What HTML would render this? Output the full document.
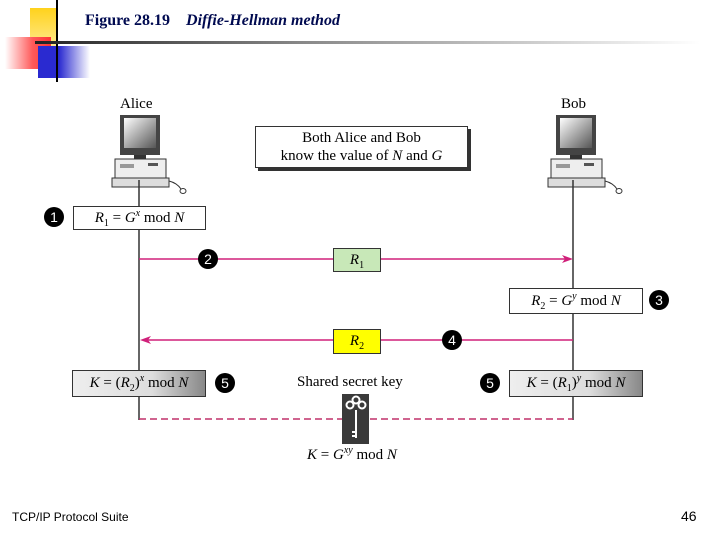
<!DOCTYPE html>
<html><head><style>
body{margin:0;width:720px;height:540px;background:#fff;position:relative;overflow:hidden;font-family:"Liberation Serif",serif}
.a{position:absolute}
.box{position:absolute;border:1px solid #333;background:#fff;font-size:15px;text-align:center;box-sizing:border-box;white-space:nowrap}
.c{position:absolute;width:20px;height:20px;border-radius:50%;background:#000;color:#fff;font-size:14px;text-align:center;line-height:20px;font-family:"Liberation Sans",sans-serif}
.g{background:linear-gradient(90deg,#eee,#ddd 60%,#888)}
i{font-style:italic}
sub,sup{font-size:10px;line-height:0}
</style></head><body>
<div class="a" style="left:30px;top:8px;width:28px;height:38px;background:linear-gradient(#ffd21c,#ffe98a)"></div>
<div class="a" style="left:5px;top:37px;width:46px;height:32px;background:linear-gradient(90deg,#fff,#ff5a5a 60%,#f33)"></div>
<div class="a" style="left:38px;top:46px;width:52px;height:32px;background:linear-gradient(90deg,#2a2ad0 40%,#fff)"></div>
<div class="a" style="left:56px;top:0;width:2px;height:82px;background:#000"></div>
<div class="a" style="left:35px;top:41px;width:665px;height:3px;background:linear-gradient(90deg,#222,#888 40%,#fff)"></div>
<div class="a" style="left:85px;top:12px;font-size:16px;color:#000a50"><b>Figure 28.19</b>&nbsp;&nbsp;&nbsp; <b><i>Diffie-Hellman method</i></b></div>

<svg class="a" style="left:0;top:0" width="720" height="540">
<defs>
<linearGradient id="scr" x1="0" x2="1" y1="0" y2="1"><stop offset="0" stop-color="#fff"/><stop offset="1" stop-color="#555"/></linearGradient>
<g id="pc">
<rect x="-20" y="0" width="40" height="40" fill="#444"/><rect x="-16" y="3" width="32" height="30" fill="url(#scr)"/>
<rect x="-6" y="40" width="12" height="4" fill="#333"/>
<rect x="-25" y="44" width="51" height="19" fill="#eee" stroke="#333"/>
<rect x="-20" y="49" width="14" height="4" fill="#999"/><rect x="8" y="48" width="10" height="3" fill="#555"/>
<rect x="-28" y="63" width="57" height="9" fill="#ddd" stroke="#333"/>
<path d="M29 66 q8 2 12 8" stroke="#333" fill="none"/><ellipse cx="43" cy="76" rx="3" ry="2.5" fill="#fff" stroke="#333"/>
</g>
</defs>
<use href="#pc" x="140" y="115"/>
<use href="#pc" x="576" y="115"/>
<line x1="139" y1="180" x2="139" y2="420" stroke="#333" stroke-width="1.5"/>
<line x1="573" y1="180" x2="573" y2="420" stroke="#333" stroke-width="1.5"/>
<line x1="139" y1="419" x2="573" y2="419" stroke="#c0306a" stroke-width="1.5" stroke-dasharray="7,4"/>
<line x1="139" y1="259" x2="568" y2="259" stroke="#d0207a" stroke-width="1.5"/>
<path d="M573 259 L562 255 L565 259 L562 263Z" fill="#d0207a"/>
<line x1="145" y1="340" x2="573" y2="340" stroke="#d0207a" stroke-width="1.5"/>
<path d="M140 340 L151 336 L148 340 L151 344Z" fill="#d0207a"/>
<rect x="342" y="394" width="27" height="50" fill="#3a3a3a"/>
<circle cx="350" cy="405" r="3.5" fill="none" stroke="#fff" stroke-width="2"/><circle cx="362" cy="405" r="3.5" fill="none" stroke="#fff" stroke-width="2"/><circle cx="356" cy="400" r="3.5" fill="none" stroke="#fff" stroke-width="2"/>
<line x1="356" y1="410" x2="356" y2="438" stroke="#fff" stroke-width="2"/><line x1="352" y1="432" x2="356" y2="432" stroke="#fff" stroke-width="2"/><line x1="352" y1="436" x2="356" y2="436" stroke="#fff" stroke-width="2"/>
</svg>

<div class="a" style="left:120px;top:96px;font-size:15px">Alice</div>
<div class="a" style="left:561px;top:96px;font-size:15px">Bob</div>
<div class="box" style="left:255px;top:126px;width:213px;height:42px;line-height:18px;padding-top:2px;box-shadow:3px 3px 0 #333">Both Alice and Bob<br>know the value of <i>N</i> and <i>G</i></div>
<div class="c" style="left:44px;top:207px">1</div>
<div class="box" style="left:73px;top:206px;width:133px;height:24px;line-height:22px"><i>R</i><sub>1</sub> = <i>G</i><sup><i>x</i></sup> mod <i>N</i></div>
<div class="c" style="left:198px;top:249px">2</div>
<div class="box" style="left:333px;top:248px;width:48px;height:24px;line-height:22px;background:#c8e8b8"><i>R</i><sub>1</sub></div>
<div class="box" style="left:509px;top:288px;width:134px;height:26px;line-height:24px"><i>R</i><sub>2</sub> = <i>G</i><sup><i>y</i></sup> mod <i>N</i></div>
<div class="c" style="left:649px;top:290px">3</div>
<div class="box" style="left:333px;top:329px;width:48px;height:25px;line-height:23px;background:#ffff00"><i>R</i><sub>2</sub></div>
<div class="c" style="left:442px;top:330px">4</div>
<div class="box g" style="left:72px;top:370px;width:134px;height:27px;line-height:25px"><i>K</i> = (<i>R</i><sub>2</sub>)<sup><i>x</i></sup> mod <i>N</i></div>
<div class="c" style="left:215px;top:373px">5</div>
<div class="a" style="left:297px;top:374px;font-size:15px">Shared secret key</div>
<div class="c" style="left:480px;top:373px">5</div>
<div class="box g" style="left:509px;top:370px;width:134px;height:27px;line-height:25px"><i>K</i> = (<i>R</i><sub>1</sub>)<sup><i>y</i></sup> mod <i>N</i></div>
<div class="a" style="left:307px;top:447px;font-size:15px"><i>K</i> = <i>G</i><sup><i>xy</i></sup> mod <i>N</i></div>
<div class="a" style="left:12px;top:510px;font-size:12px;font-family:'Liberation Sans',sans-serif">TCP/IP Protocol Suite</div>
<div class="a" style="left:681px;top:508px;font-size:14px;font-family:'Liberation Sans',sans-serif">46</div>
</body></html>
